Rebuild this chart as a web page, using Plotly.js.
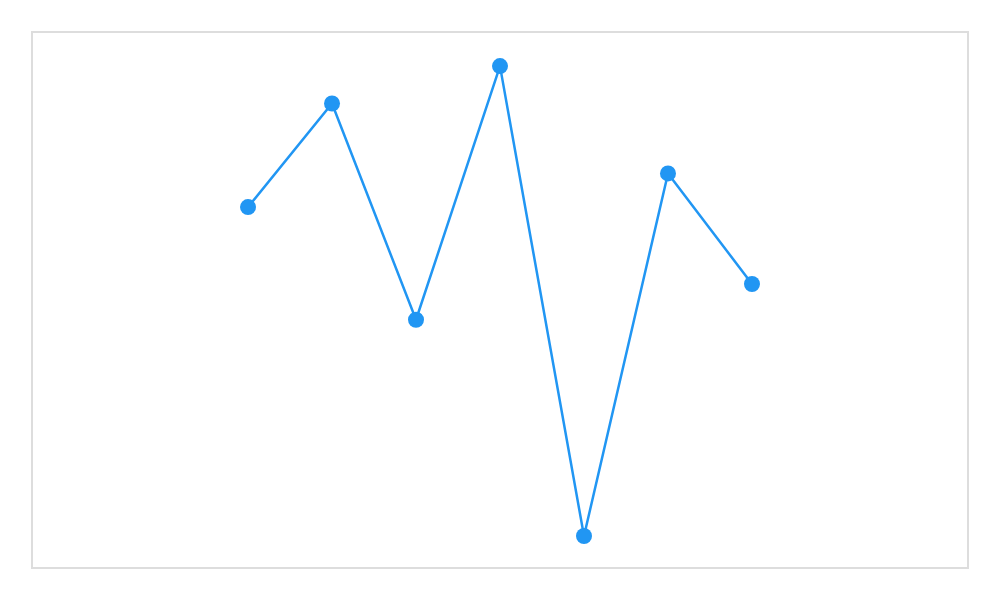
<!DOCTYPE html>
<html>
<head>
<meta charset="utf-8">
<script src="https://cdn.plot.ly/plotly-3.0.1.min.js"></script>
<style>
  html, body { margin: 0; padding: 0; background: #fff; }
  #chart { width: 1000px; height: 600px; }
</style>
</head>
<body>
<div id="chart"></div>
<script>
// values (no axes shown, so scale is 0-100)
var xIndex = [0, 1, 2, 3, 4, 5, 6];
var yValues = [67.4, 86.8, 46.3, 93.8, 5.8, 73.7, 53.0];

var lineColor = '#2196F3';

var trace = {
  x: xIndex,
  y: yValues,
  mode: 'lines+markers',
  line: { color: lineColor, width: 2.5 },
  marker: { color: lineColor, size: 16 },
  hoverinfo: 'skip'
};

var frame = {
  showline: true,
  mirror: true,
  linecolor: '#dddddd',
  linewidth: 2,
  showgrid: false,
  zeroline: false,
  showticklabels: false,
  ticks: ''
};

var layout = {
  width: 1000,
  height: 600,
  margin: { l: 33, r: 33, t: 33, b: 33 },
  paper_bgcolor: '#ffffff',
  plot_bgcolor: '#ffffff',
  showlegend: false,
  xaxis: Object.assign({ range: [-2.56, 8.56] }, frame),
  yaxis: Object.assign({ range: [0, 100] }, frame)
};

Plotly.newPlot('chart', [trace], layout, { displayModeBar: false, staticPlot: true });
</script>
</body>
</html>
